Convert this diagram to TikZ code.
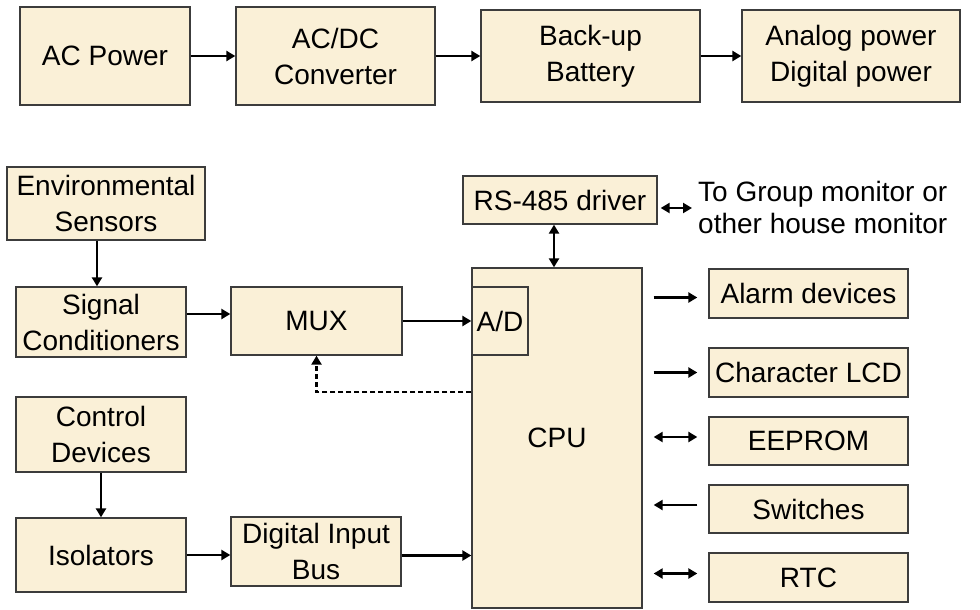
\documentclass[tikz,border=0pt]{standalone}
\usepackage{fontspec}
\setmainfont{Liberation Sans}
\usetikzlibrary{arrows.meta}
\definecolor{boxfill}{HTML}{FAF0D7}
\definecolor{boxline}{HTML}{3C3C3C}
\begin{document}
\begin{tikzpicture}[x=1pt,y=-1pt,
  blk/.style={draw=boxline, line width=1.3pt, fill=boxfill, inner sep=0pt, align=center,
    font=\fontsize{28}{36}\selectfont},
  arr/.style={line width=2.6pt, -{Triangle[length=9pt,width=10pt]}},
  darr/.style={line width=2.6pt, {Triangle[length=9pt,width=10pt]}-{Triangle[length=9pt,width=10pt]}},
  dsh/.style={line width=2.6pt, dash pattern=on 5pt off 3pt, -{Triangle[length=9pt,width=10pt]}},
  side/.style={shorten <=11pt, shorten >=11pt}
]
\useasboundingbox (0,0) rectangle (980,610);
% top row
\node[blk, minimum width=170pt, minimum height=98pt] (acp) at (105,56) {AC Power};
\node[blk, minimum width=199pt, minimum height=98pt] (acdc) at (335.5,56) {AC/DC\\Converter};
\node[blk, minimum width=219pt, minimum height=92pt] (bat) at (590.5,56) {Back-up\\Battery};
\node[blk, minimum width=218pt, minimum height=92pt] (ana) at (851,56) {Analog power\\Digital power};
\draw[arr] (acp.east) -- (acdc.west);
\draw[arr] (acdc.east) -- (bat.west);
\draw[arr] (bat.east) -- (ana.west);
% left column
\node[blk, minimum width=198pt, minimum height=73pt] (env) at (106,203.5) {Environmental\\Sensors};
\node[blk, minimum width=170pt, minimum height=70pt] (sig) at (101,322) {Signal\\Conditioners};
\node[blk, minimum width=171pt, minimum height=68pt] (mux) at (316.5,321) {MUX};
\node[blk, minimum width=170pt, minimum height=75pt] (ctl) at (101,434.5) {Control\\Devices};
\node[blk, minimum width=170pt, minimum height=74pt] (iso) at (101,555) {Isolators};
\node[blk, minimum width=170pt, minimum height=69pt] (dib) at (316,551.5) {Digital Input\\Bus};
% CPU
\node[blk, minimum width=170pt, minimum height=340pt] (cpu) at (557,438) {CPU};
\node[blk, minimum width=56pt, minimum height=68pt] (ad) at (500,321) {A/D};
\node[blk, minimum width=194pt, minimum height=48pt] (rs) at (560,200) {RS-485 driver};
\node[anchor=west, align=left, inner sep=0pt, font=\fontsize{28}{32}\selectfont] (mon) at (698,207) {To Group monitor or\\other house monitor};
% right column
\node[blk, minimum width=199pt, minimum height=49pt] (alarm) at (808.5,293.5) {Alarm devices};
\node[blk, minimum width=199pt, minimum height=49pt] (lcd) at (808.5,372.5) {Character LCD};
\node[blk, minimum width=199pt, minimum height=48pt] (eep) at (808.5,441) {EEPROM};
\node[blk, minimum width=199pt, minimum height=48pt] (sw) at (808.5,509) {Switches};
\node[blk, minimum width=199pt, minimum height=49pt] (rtc) at (808.5,577.5) {RTC};
% connectors left
\draw[arr] ([xshift=-4pt]sig.north |- env.south) -- ([xshift=-4pt]sig.north);
\draw[arr] ([yshift=8pt]sig.east) -- ([yshift=8pt]sig.east -| mux.west);
\draw[arr] (mux.east) -- (ad.west);
\draw[dsh] ([yshift=46pt]cpu.west) -| (mux.south);
\draw[arr] (ctl.south) -- (iso.north);
\draw[arr] (iso.east) -- (iso.east -| dib.west);
\draw[arr] ([yshift=-4pt]dib.east) -- ([yshift=-4pt]dib.east -| cpu.west);
% connectors top
\draw[darr] ([xshift=-6pt]rs.south) -- ([xshift=-6pt]rs.south |- cpu.north);
\draw[darr, shorten <=3pt, shorten >=6pt] ([yshift=-8pt]rs.east) -- ([yshift=-8pt]rs.east -| mon.west);
% connectors right
\draw[arr, side] ([yshift=-4pt]cpu.east |- alarm.west) -- ([yshift=-4pt]alarm.west);
\draw[arr, side] (cpu.east |- lcd.west) -- (lcd.west);
\draw[darr, side] ([yshift=4pt]cpu.east |- eep.west) -- ([yshift=4pt]eep.west);
\draw[arr, side] ([yshift=4pt]sw.west) -- ([yshift=4pt]cpu.east |- sw.west);
\draw[darr, side] ([yshift=4pt]cpu.east |- rtc.west) -- ([yshift=4pt]rtc.west);
\end{tikzpicture}
\end{document}
